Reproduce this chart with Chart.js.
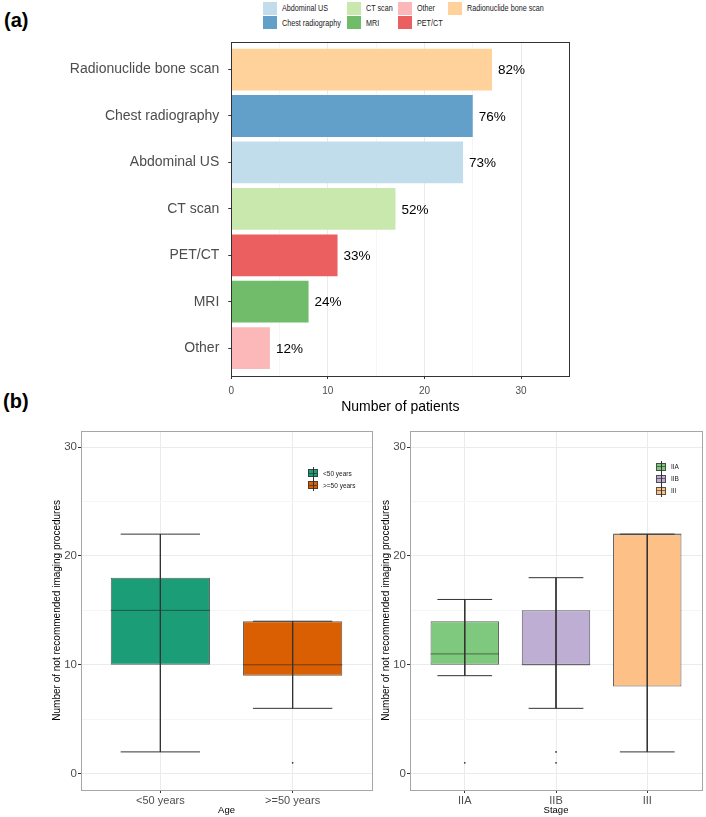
<!DOCTYPE html>
<html>
<head>
<meta charset="utf-8">
<script src="https://cdn.jsdelivr.net/npm/chart.js@4.4.0/dist/chart.umd.min.js"></script>
<style>
  body { margin: 0; background: #fff; font-family: "Liberation Sans", Arial, sans-serif; }
  #page { position: relative; width: 706px; height: 817px; overflow: hidden; background: #fff; }
  canvas { position: absolute; }
  .tag { position: absolute; font-weight: bold; font-size: 20px; line-height: 23px; color: #000; }
  #legendA { position: absolute; left: 263px; top: 1px; display: grid; grid-template-rows: 14.4px 14.4px;
    grid-auto-flow: column; column-gap: 6px; font-size: 9px; color: #1a1a1a; }
  .item { display: flex; align-items: center; white-space: nowrap; }
  .key { width: 13.7px; height: 13px; margin-right: 5px; flex: none; }
  .txt { display: inline-block; overflow: visible; }
  .txt span { display: inline-block; transform: scaleX(0.8); transform-origin: 0 50%; }
  .boxLegend { position: absolute; font-size: 6.5px; color: #1a1a1a; }
  .bitem { display: flex; align-items: center; height: 12px; }
  .bkey { position: relative; width: 10px; height: 12px; margin-right: 5px; }
  .bkey .box { position: absolute; left: 0; top: 2px; width: 8px; height: 6px; border: 1px solid rgba(51,51,51,0.8); }
  .bkey .med { position: absolute; left: 1px; top: 5.5px; width: 8px; height: 1px; background: rgba(30,30,30,0.55); }
  .bkey .wh { position: absolute; left: 4.5px; top: 0; width: 1px; height: 12px; background: #333; }
</style>
</head>
<body>
<div id="page">
  <div class="tag" style="left:4px; top:9px;">(a)</div>
  <div class="tag" style="left:3px; top:390px;">(b)</div>
  <div id="legendA"></div>
  <canvas id="chartA" width="706" height="420" style="left:0; top:0; width:706px; height:420px;"></canvas>
  <canvas id="chartAge" width="376" height="397" style="left:0; top:420px; width:376px; height:397px;"></canvas>
  <canvas id="chartStage" width="377" height="397" style="left:329px; top:420px; width:377px; height:397px;"></canvas>
  <div id="legendAge" class="boxLegend" style="left:308px; top:467px;"></div>
  <div id="legendStage" class="boxLegend" style="left:656px; top:460.7px;"></div>
</div>
<script>
// -- DATA ---------------------------------------------//
const imagingLabels = ['Radionuclide bone scan', 'Chest radiography', 'Abdominal US', 'CT scan', 'PET/CT', 'MRI', 'Other'];
const imagingPatients = [27, 25, 24, 17, 11, 8, 4];
const imagingPercent = [82, 76, 73, 52, 33, 24, 12];
const patientTicks = [0, 10, 20, 30];

const ageGroups = ['<50 years', '>=50 years'];
const ageMin = [2, 6];
const ageQ1 = [10, 9];
const ageMedian = [15, 10];
const ageQ3 = [18, 14];
const ageMax = [22, 14];
const ageOutliers = [[], [1]];

const stageGroups = ['IIA', 'IIB', 'III'];
const stageMin = [9, 6, 2];
const stageQ1 = [10, 10, 8];
const stageMedian = [11, 10, 22];
const stageQ3 = [14, 15, 22];
const stageMax = [16, 18, 22];
const stageOutliers = [[1], [2, 1], []];

const countTicks = [0, 10, 20, 30];

// -- STYLES -------------------------------------------//
const imagingColors = ['#fed29a', '#62a0ca', '#c1ddeb', '#c9e8ad', '#ec5f60', '#70bc6b', '#fcb8b8'];
const ageColors = ['#1b9e77', '#d95f02'];
const stageColors = ['#7fc97f', '#beaed4', '#fdc086'];
const FONT = '"Liberation Sans", Arial, sans-serif';
Chart.defaults.font.family = FONT;

// draws the ggplot style box round the panel
function panelBorder(color) {
	return {
		id: 'panelBorder',
		afterDraw(chart) {
			const { ctx, chartArea: a } = chart;
			ctx.save();
			ctx.strokeStyle = color;
			ctx.lineWidth = 1;
			ctx.strokeRect(Math.round(a.left) + 0.5, Math.round(a.top) + 0.5,
				Math.round(a.right - a.left), Math.round(a.bottom - a.top));
			ctx.restore();
		}
	};
}

// percentage text after each bar
const pctLabels = {
	id: 'pctLabels',
	afterDatasetsDraw(chart) {
		const ctx = chart.ctx;
		const meta = chart.getDatasetMeta(0);
		ctx.save();
		ctx.font = '13.5px ' + FONT;
		ctx.fillStyle = '#000';
		ctx.textBaseline = 'middle';
		meta.data.forEach((bar, i) => {
			ctx.fillText(imagingPercent[i] + '%', bar.x + 6, bar.y + 1);
		});
		ctx.restore();
	}
};

// -- LEGEND (a) ---------------------------------------//
const legendOrder = imagingLabels.map((l, i) => i).sort((a, b) => imagingLabels[a].localeCompare(imagingLabels[b]));
const legendA = document.getElementById('legendA');
legendOrder.forEach(i => {
	const item = document.createElement('div');
	item.className = 'item';
	item.innerHTML = '<span class="key" style="background:' + imagingColors[i] + '"></span><span class="txt"><span></span></span>';
	const inner = item.querySelector('.txt span');
	inner.textContent = imagingLabels[i];
	legendA.appendChild(item);
	// squeeze the text like the narrow font of the original
	item.querySelector('.txt').style.width = (inner.offsetWidth * 0.8) + 'px';
});

function boxLegend(id, groups, colors) {
	const el = document.getElementById(id);
	groups.forEach((g, i) => {
		const item = document.createElement('div');
		item.className = 'bitem';
		item.innerHTML = '<span class="bkey"><span class="box" style="background:' + colors[i] + '"></span>' +
			'<span class="med"></span><span class="wh"></span></span><span></span>';
		item.lastChild.textContent = g;
		el.appendChild(item);
	});
}
boxLegend('legendAge', ageGroups, ageColors);
boxLegend('legendStage', stageGroups, stageColors);

// -- CHART (a) ----------------------------------------//
new Chart(document.getElementById('chartA'), {
	type: 'bar',
	data: {
		datasets: [{
			data: imagingPatients.map((v, i) => ({ x: v, y: i + 1 })),
			backgroundColor: imagingColors,
			borderWidth: 0,
			barPercentage: 0.9,
			categoryPercentage: 1,
		}],
	},
	options: {
		indexAxis: 'y',
		responsive: false,
		animation: false,
		events: [],
		layout: { padding: { top: 41.7, right: 136.7, left: 0, bottom: 0 } },
		plugins: { legend: { display: false }, tooltip: { enabled: false } },
		scales: {
			x: {
				type: 'linear', min: 0, max: 35, offset: false,
				border: { display: false },
				grid: {
					offset: false,
					color: c => (c.tick && c.tick.value % 10 === 0) ? '#ebebeb' : '#f5f5f5',
					tickColor: c => (c.tick && patientTicks.includes(c.tick.value)) ? '#333' : 'rgba(0,0,0,0)',
					tickLength: 3,
				},
				ticks: {
					stepSize: 5, includeBounds: false, autoSkip: false, maxRotation: 0,
					padding: 6, color: '#4d4d4d', font: { size: 10 },
					callback: v => patientTicks.includes(v) ? String(v) : '',
				},
				title: { display: true, text: 'Number of patients', color: '#000', font: { size: 14 }, padding: { top: 0, bottom: 4 } },
				afterFit: s => { s.height = 44; },
			},
			y: {
				type: 'linear', min: 0.4, max: 7.6, reverse: true, offset: false,
				border: { display: false },
				grid: { offset: false, drawOnChartArea: false, tickColor: '#333', tickLength: 3 },
				ticks: {
					stepSize: 1, includeBounds: false, autoSkip: false,
					padding: 9, color: '#4d4d4d', font: { size: 14 },
					callback: v => imagingLabels[v - 1] || '',
				},
				afterFit: s => { s.width = 231.3; },
			},
		},
	},
	plugins: [pctLabels, panelBorder('#333')],
});

// -- CHARTS (b) ---------------------------------------//
function boxChart(canvasId, groups, lo, q1, med, q3, hi, outliers, colors, xTitle, rightPad) {
	const xs = groups.map((g, i) => i + 1);
	const whiskers = [];
	const medians = [];
	const points = [];
	xs.forEach((x, i) => {
		whiskers.push(
			{ x: x - 0.3, y: hi[i] }, { x: x + 0.3, y: hi[i] }, { x: x, y: null },
			{ x: x, y: hi[i] }, { x: x, y: lo[i] }, { x: x, y: null },
			{ x: x - 0.3, y: lo[i] }, { x: x + 0.3, y: lo[i] }, { x: x, y: null }
		);
		medians.push({ x: x - 0.375, y: med[i] }, { x: x + 0.375, y: med[i] }, { x: x, y: null });
		outliers[i].forEach(v => points.push({ x: x, y: v }));
	});

	return new Chart(document.getElementById(canvasId), {
		type: 'bar',
		data: {
			datasets: [
				{
					type: 'line', data: whiskers, order: 0,
					borderColor: '#333', borderWidth: 1, pointRadius: 0, fill: false, spanGaps: false,
				},
				{
					type: 'line', data: points, order: 0, showLine: false,
					pointRadius: 0.9, pointBackgroundColor: '#333', pointBorderWidth: 0,
				},
				{
					type: 'line', data: medians, order: 1,
					borderColor: 'rgba(30,30,30,0.55)', borderWidth: 1, pointRadius: 0, fill: false, spanGaps: false,
				},
				{
					data: xs.map((x, i) => ({ x: x, y: [q1[i], q3[i]] })), order: 2,
					backgroundColor: colors, borderColor: 'rgba(51,51,51,0.8)', borderWidth: 1,
					borderSkipped: false, barPercentage: 0.75, categoryPercentage: 1,
				},
			],
		},
		options: {
			responsive: false,
			animation: false,
			events: [],
			layout: { padding: { top: 10.7, right: rightPad, left: 0, bottom: 0 } },
			plugins: { legend: { display: false }, tooltip: { enabled: false } },
			scales: {
				x: {
					type: 'linear', min: 0.4, max: groups.length + 0.6, offset: false,
					border: { display: false },
					grid: { offset: false, color: '#ebebeb', tickColor: '#333', tickLength: 3 },
					ticks: {
						stepSize: 1, includeBounds: false, autoSkip: false, maxRotation: 0,
						padding: 1, color: '#4d4d4d', font: { size: 11 },
						callback: v => groups[v - 1] || '',
					},
					title: { display: true, text: xTitle, color: '#000', font: { size: 9.5 }, padding: { top: 0, bottom: 1.3 } },
					afterFit: s => { s.height = 27; },
				},
				y: {
					type: 'linear', min: -1.5, max: 31.5, offset: false,
					border: { display: false },
					grid: {
						offset: false,
						color: c => (c.tick && c.tick.value % 10 === 0) ? '#ebebeb' : '#f5f5f5',
						tickColor: c => (c.tick && countTicks.includes(c.tick.value)) ? '#333' : 'rgba(0,0,0,0)',
						tickLength: 3,
					},
					ticks: {
						stepSize: 5, includeBounds: false, autoSkip: false,
						padding: 1, color: '#4d4d4d', font: { size: 11.5 },
						callback: v => countTicks.includes(v) ? String(v) : '',
					},
					title: {
						display: true, text: 'Number of not recommended imaging procedures',
						color: '#000', font: { size: 10 }, padding: { top: 51.7, bottom: 0 },
					},
					afterFit: s => { s.width = 81; },
				},
			},
		},
		plugins: [panelBorder('#a6a6a6')],
	});
}

boxChart('chartAge', ageGroups, ageMin, ageQ1, ageMedian, ageQ3, ageMax, ageOutliers, ageColors, 'Age', 0.3);
boxChart('chartStage', stageGroups, stageMin, stageQ1, stageMedian, stageQ3, stageMax, stageOutliers, stageColors, 'Stage', 1.7);
</script>
</body>
</html>
